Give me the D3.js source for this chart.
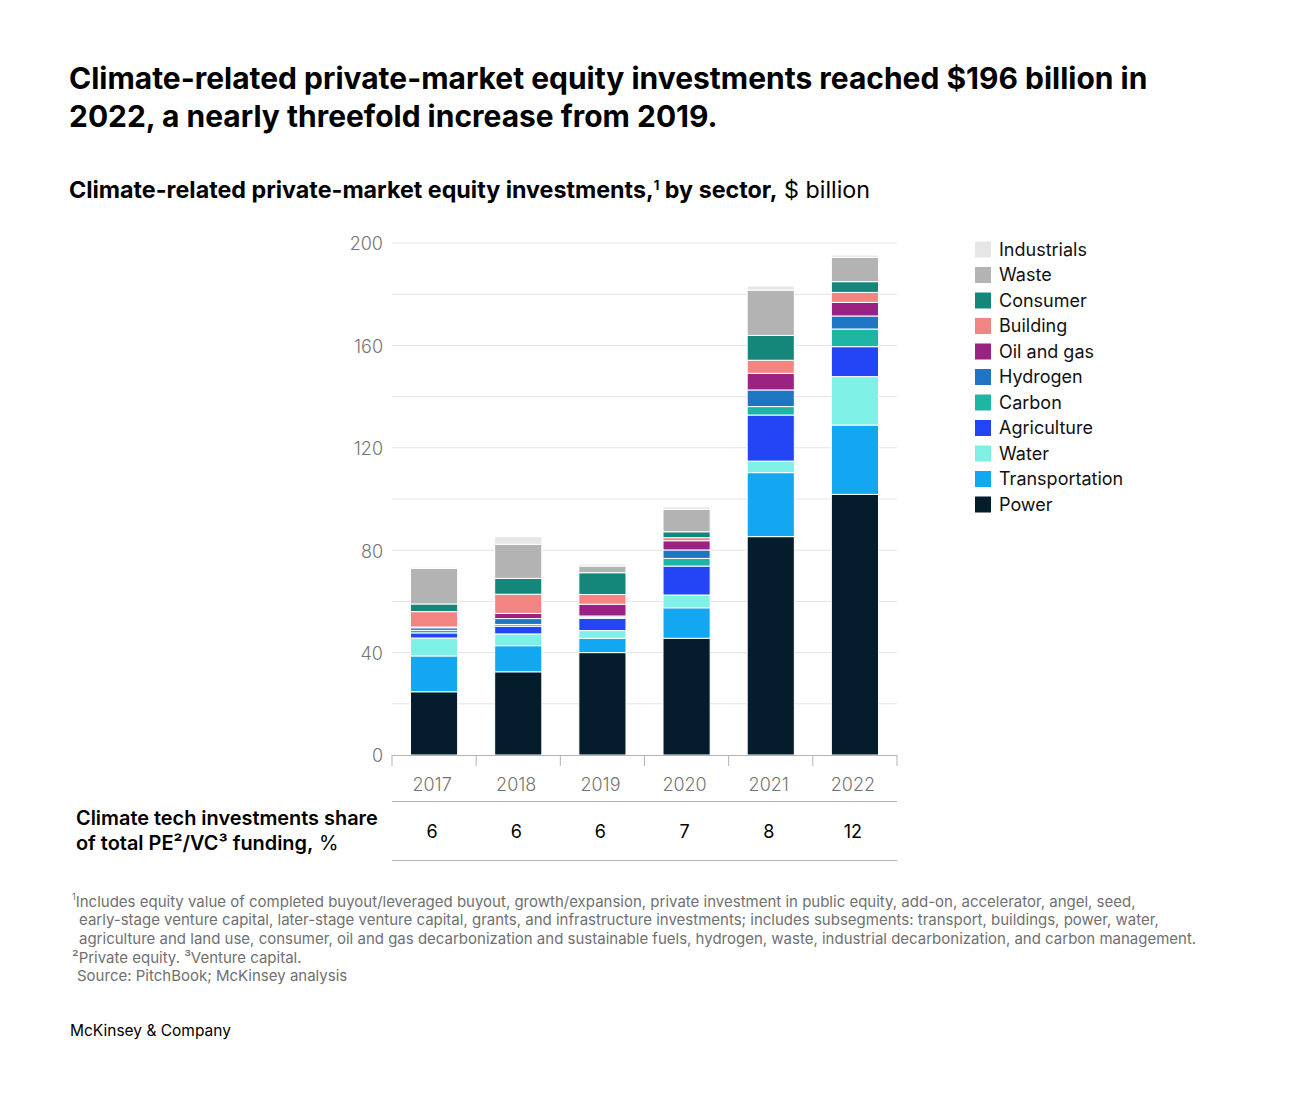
<!DOCTYPE html>
<html>
<head>
<meta charset="utf-8">
<script src="https://cdn.jsdelivr.net/npm/d3@7"></script>
<style>
  body { margin: 0; background: #fff; font-family: Inter, "Noto Sans", sans-serif; }
  svg text { font-family: Inter, "Noto Sans", sans-serif; }
</style>
</head>
<body>
<div id="chart"></div>
<script>
//years on the x axis
const years = ["2017", "2018", "2019", "2020", "2021", "2022"];

//sectors, bottom to top of the stack
const sectors = ["Power", "Transportation", "Water", "Agriculture", "Carbon", "Hydrogen", "Oil and gas", "Building", "Consumer", "Waste", "Industrials"];

//values per sector, $ billion, one per year
const power = [24.7, 32.5, 40.0, 45.6, 85.3, 101.8];
const transportation = [14.0, 10.2, 5.6, 11.9, 25.0, 27.1];
const water = [7.0, 4.6, 3.0, 5.0, 4.5, 18.9];
const agriculture = [2.0, 3.0, 4.8, 11.3, 18.0, 11.7];
const carbon = [1.0, 0.7, 0.4, 3.0, 3.3, 6.9];
const hydrogen = [1.0, 2.3, 0.5, 3.3, 6.5, 5.1];
const oilAndGas = [0.3, 2.0, 4.6, 3.6, 6.5, 5.3];
const building = [6.0, 7.5, 3.8, 1.2, 5.1, 3.9];
const consumer = [3.0, 6.2, 8.5, 2.3, 9.7, 4.2];
const waste = [13.9, 13.3, 2.6, 8.8, 17.7, 9.5];
const industrials = [0.5, 3.0, 0.8, 1.0, 1.6, 0.9];

//share of total PE/VC funding, %
const shares = ["6", "6", "6", "7", "8", "12"];

//y axis ticks
const yTicks = [0, 40, 80, 120, 160, 200];
const gridTicks = [20, 40, 60, 80, 100, 120, 140, 160, 180, 200];

const seriesValues = {
  Power: power,
  Transportation: transportation,
  Water: water,
  Agriculture: agriculture,
  Carbon: carbon,
  Hydrogen: hydrogen,
  "Oil and gas": oilAndGas,
  Building: building,
  Consumer: consumer,
  Waste: waste,
  Industrials: industrials,
};

//bar color
const color = d3
  .scaleOrdinal()
  .domain(sectors)
  .range(["#051c2c", "#12a7f0", "#7ff0e6", "#2445f5", "#1fb5a5", "#1f74c4", "#9b2182", "#f28482", "#14877a", "#b3b3b3", "#e6e6e6"]);

//size
const width = 1290;
const height = 1100;
const plot = { left: 392, right: 897, top: 243, bottom: 755 };

//table rows
const table = years.map((y, i) => {
  const row = { year: y };
  sectors.forEach((s) => (row[s] = seriesValues[s][i]));
  return row;
});

const stacked = d3.stack().keys(sectors)(table);

const svg = d3
  .select("#chart")
  .append("svg")
  .attr("width", width)
  .attr("height", height);

//shrink/grow a text's font size so it spans the wanted width
function fitWidth(sel, target) {
  const node = sel.node();
  const w = node.getComputedTextLength();
  const fs = parseFloat(sel.attr("font-size") || node.parentNode.getAttribute("font-size"));
  sel.attr("font-size", (fs * target) / w);
}

//title
const title = svg.append("g").attr("font-weight", 700).attr("fill", "#000");
const t1 = title.append("text").attr("x", 69).attr("y", 89).attr("font-size", 28).text("Climate-related private-market equity investments reached $196 billion in");
fitWidth(t1, 1079);
title.append("text").attr("x", 69).attr("y", 127).attr("font-size", t1.attr("font-size")).text("2022, a nearly threefold increase from 2019.");

//subtitle
const sub = svg.append("text").attr("x", 69).attr("y", 198).attr("font-size", 21).attr("fill", "#000");
sub.append("tspan").attr("font-weight", 700).text("Climate-related private-market equity investments,");
sub.append("tspan").attr("font-weight", 700).attr("font-size", 13).attr("dy", -8).text("1");
sub.append("tspan").attr("font-weight", 700).attr("dy", 8).text(" by sector,");
sub.append("tspan").attr("font-weight", 400).text(" $ billion");
fitWidth(sub, 802);

//scales
const x = d3
  .scaleBand()
  .domain(years)
  .range([plot.left, plot.right])
  .paddingInner(0.44)
  .paddingOuter(0.22);

const xOuter = d3.scaleBand().domain(years).range([plot.left, plot.right]);

const y = d3.scaleLinear().domain([0, 200]).range([plot.bottom, plot.top]);

//grid lines
svg
  .append("g")
  .selectAll("line")
  .data(gridTicks)
  .join("line")
  .attr("x1", plot.left)
  .attr("x2", plot.right)
  .attr("y1", (d) => y(d))
  .attr("y2", (d) => y(d))
  .attr("stroke", "#e3e3e3")
  .attr("stroke-width", 1);

//y axis labels
svg
  .append("g")
  .selectAll("text")
  .data(yTicks)
  .join("text")
  .attr("x", 383)
  .attr("y", (d) => y(d) + 1)
  .attr("dy", "0.35em")
  .attr("text-anchor", "end")
  .attr("font-size", 18)
  .attr("font-weight", 300)
  .attr("fill", "#757575")
  .text((d) => d);

//bars
svg
  .append("g")
  .selectAll("g")
  .data(stacked)
  .join("g")
  .attr("fill", (d) => color(d.key))
  .selectAll("rect")
  .data((d) => d)
  .join("rect")
  .attr("x", (d) => x(d.data.year))
  .attr("width", x.bandwidth())
  .attr("y", (d) => y(d[1]))
  .attr("height", (d) => Math.max(0, y(d[0]) - y(d[1])))
  .attr("stroke", "#fff")
  .attr("stroke-width", 1);

//x axis
const xAxis = svg.append("g");
xAxis
  .append("line")
  .attr("x1", plot.left)
  .attr("x2", plot.right)
  .attr("y1", plot.bottom + 0.5)
  .attr("y2", plot.bottom + 0.5)
  .attr("stroke", "#b3b3b3");
xAxis
  .selectAll("line.tick")
  .data([...years.map((d) => xOuter(d)), plot.right])
  .join("line")
  .attr("class", "tick")
  .attr("x1", (d) => d)
  .attr("x2", (d) => d)
  .attr("y1", plot.bottom)
  .attr("y2", plot.bottom + 11)
  .attr("stroke", "#b3b3b3");
xAxis
  .selectAll("text")
  .data(years)
  .join("text")
  .attr("x", (d) => x(d) + x.bandwidth() / 2 - 2)
  .attr("y", 785)
  .attr("dy", "0.35em")
  .attr("text-anchor", "middle")
  .attr("font-size", 18)
  .attr("font-weight", 300)
  .attr("fill", "#757575")
  .text((d) => d);

//share table
svg
  .append("g")
  .selectAll("line")
  .data([801, 860])
  .join("line")
  .attr("x1", plot.left)
  .attr("x2", plot.right)
  .attr("y1", (d) => d + 0.5)
  .attr("y2", (d) => d + 0.5)
  .attr("stroke", "#b3b3b3");

svg
  .append("g")
  .selectAll("text")
  .data(shares)
  .join("text")
  .attr("x", (d, i) => x(years[i]) + x.bandwidth() / 2 - 2)
  .attr("y", 832)
  .attr("dy", "0.35em")
  .attr("text-anchor", "middle")
  .attr("font-size", 18)
  .attr("fill", "#000")
  .text((d) => d);

const tLabel = svg.append("g").attr("font-size", 18).attr("fill", "#000");
const tl1 = tLabel.append("text").attr("x", 76).attr("y", 818).attr("dy", "0.35em").attr("font-weight", 600).attr("font-size", 18).text("Climate tech investments share");
fitWidth(tl1, 302);
const t2 = tLabel.append("text").attr("x", 76).attr("y", 843).attr("dy", "0.35em").attr("font-size", tl1.attr("font-size"));
t2.append("tspan").attr("font-weight", 600).text("of total PE²/VC³ funding,");
t2.append("tspan").attr("font-weight", 400).text(" %");

//legend
const legend = svg
  .append("g")
  .selectAll("g")
  .data(sectors.slice().reverse())
  .join("g")
  .attr("transform", (d, i) => `translate(975,${249.5 + i * 25.5})`);
legend
  .append("rect")
  .attr("x", 0)
  .attr("y", -8)
  .attr("width", 16)
  .attr("height", 16)
  .attr("fill", (d) => color(d));
legend
  .append("text")
  .attr("x", 24)
  .attr("dy", "0.35em")
  .attr("font-size", 18)
  .attr("fill", "#111")
  .text((d) => d);

//footnotes
const notes = [
  { x: 72, text: "Includes equity value of completed buyout/leveraged buyout, growth/expansion, private investment in public equity, add-on, accelerator, angel, seed,", sup: "1" },
  { x: 79, text: "early-stage venture capital, later-stage venture capital, grants, and infrastructure investments; includes subsegments: transport, buildings, power, water," },
  { x: 79, text: "agriculture and land use, consumer, oil and gas decarbonization and sustainable fuels, hydrogen, waste, industrial decarbonization, and carbon management.", fit: 1118 },
  { x: 72, text: "²Private equity. ³Venture capital." },
  { x: 77, text: "Source: PitchBook; McKinsey analysis" },
];
const foot = svg.append("g").attr("fill", "#707070");
const footLines = notes.map((n, i) => {
  const t = foot.append("text").attr("x", n.x).attr("y", 901 + i * 18.8).attr("dy", "0.35em").attr("font-size", 14);
  if (n.sup) {
    t.append("tspan").attr("font-size", 9).attr("dy", "-0.15em").text(n.sup);
    t.append("tspan").attr("dy", "0.5em").text(n.text);
  } else {
    t.text(n.text);
  }
  return t;
});
//size from the longest line, then apply to all
fitWidth(footLines[2], notes[2].fit);
const footSize = footLines[2].attr("font-size");
footLines.forEach((t) => t.attr("font-size", footSize));

svg
  .append("text")
  .attr("x", 70)
  .attr("y", 1031)
  .attr("dy", "0.35em")
  .attr("font-size", 15.5)
  .attr("fill", "#000")
  .text("McKinsey & Company");
</script>
</body>
</html>
